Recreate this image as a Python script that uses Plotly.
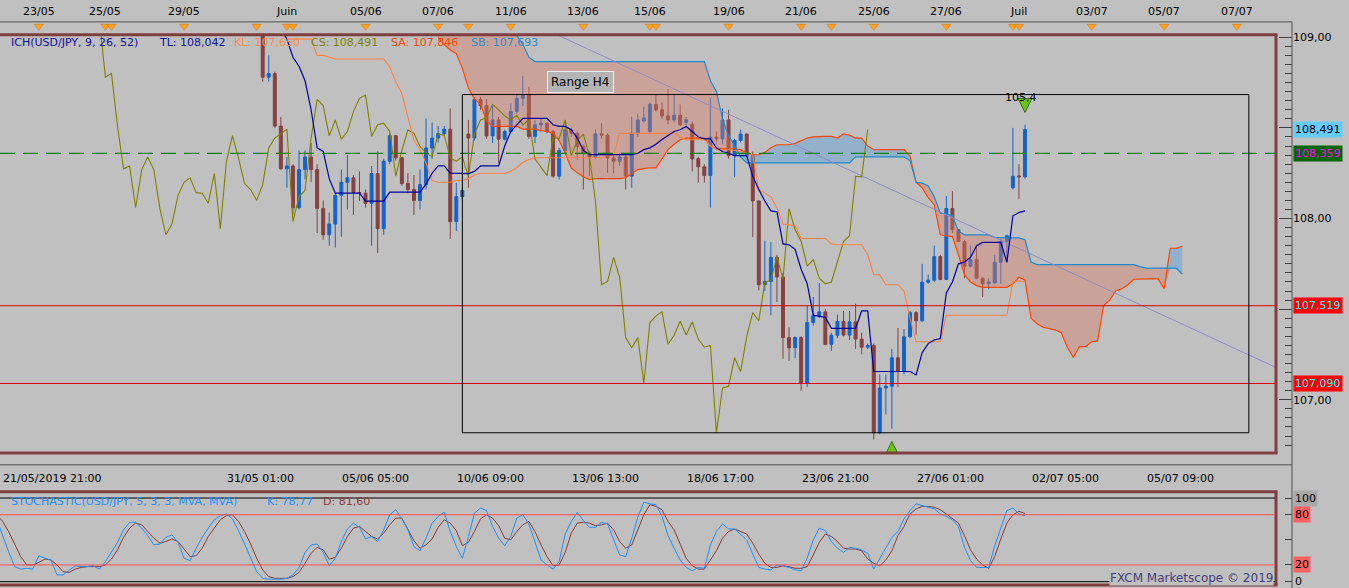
import plotly.graph_objects as go

# USD/JPY H4 (FXCM Marketscope). Bar index 0 = 21/05/2019 21:00, one bar = 4 h.
first_bar = 43
opens = [109.40, 109.20, 108.78, 108.80, 108.51, 108.274, 108.29, 108.06,
         108.27, 108.34, 108.27, 108.056, 107.91, 107.97, 108.128, 108.20,
         108.225, 108.143, 108.14, 108.084, 108.248, 107.944, 108.316, 108.457,
         108.335, 108.193, 108.16, 108.10, 108.187, 108.389, 108.444, 108.468,
         108.493, 107.983, 108.121, 108.466, 108.444, 108.657, 108.623, 108.456,
         108.544, 108.438, 108.48, 108.59, 108.663, 108.681, 108.453, 108.517,
         108.526, 108.48, 108.234, 108.376, 108.489, 108.47, 108.398, 108.362,
         108.34, 108.467, 108.46, 108.334, 108.316, 108.34, 108.234, 108.467,
         108.538, 108.48, 108.63, 108.60, 108.566, 108.544, 108.57, 108.53,
         108.52, 108.33, 108.285, 108.237, 108.449, 108.44, 108.544, 108.347,
         108.431, 108.466, 108.347, 108.097, 107.635, 107.653, 107.786, 107.677,
         107.343, 107.287, 107.343, 107.092, 107.426, 107.463, 107.485, 107.306,
         107.356, 107.433, 107.357, 107.43, 107.335, 107.29, 107.30, 106.818,
         107.065, 107.075, 107.232, 107.156, 107.348, 107.481, 107.436, 107.649,
         107.66, 107.79, 107.664, 108.055, 107.938, 107.873, 107.737, 107.773,
         107.671, 107.64, 107.645, 107.759, 107.875, 108.17, 108.235, 108.23]
highs = [109.45, 109.25, 108.90, 108.81, 108.56, 108.34, 108.30, 108.376,
         108.376, 108.417, 108.30, 108.10, 108.033, 108.14, 108.27, 108.35,
         108.24, 108.26, 108.16, 108.29, 108.37, 108.33, 108.47, 108.46,
         108.34, 108.25, 108.24, 108.27, 108.553, 108.53, 108.51, 108.51,
         108.608, 108.197, 108.17, 108.544, 108.67, 108.672, 108.66, 108.621,
         108.56, 108.49, 108.635, 108.69, 108.786, 108.727, 108.545, 108.55,
         108.53, 108.49, 108.39, 108.535, 108.50, 108.48, 108.41, 108.37,
         108.49, 108.526, 108.47, 108.35, 108.36, 108.35, 108.562, 108.58,
         108.617, 108.64, 108.68, 108.64, 108.713, 108.68, 108.63, 108.56,
         108.535, 108.34, 108.30, 108.668, 108.48, 108.608, 108.60, 108.44,
         108.49, 108.47, 108.37, 108.10, 107.878, 107.87, 107.80, 107.70,
         107.40, 107.35, 107.35, 107.52, 107.567, 107.645, 107.50, 107.37,
         107.47, 107.49, 107.49, 107.53, 107.37, 107.31, 107.31, 107.14,
         107.14, 107.28, 107.396, 107.39, 107.49, 107.49, 107.75, 107.69,
         107.85, 107.80, 108.124, 108.151, 107.94, 107.88, 107.85, 107.85,
         107.675, 107.67, 107.80, 107.89, 107.91, 108.50, 108.30, 108.517]
lows = [109.05, 108.755, 108.755, 108.50, 108.27, 108.17, 108.024, 108.05,
        108.215, 108.20, 107.92, 107.883, 107.85, 107.84, 107.90, 108.05,
        108.02, 108.096, 108.06, 107.85, 107.81, 107.91, 108.30, 108.32,
        108.18, 108.14, 108.02, 108.05, 108.16, 108.33, 108.42, 108.46,
        107.886, 107.93, 108.10, 108.17, 108.43, 108.60, 108.44, 108.416,
        108.307, 108.43, 108.47, 108.58, 108.62, 108.44, 108.416, 108.48,
        108.47, 108.225, 108.215, 108.36, 108.45, 108.325, 108.16, 108.234,
        108.33, 108.44, 108.252, 108.25, 108.29, 108.16, 108.17, 108.45,
        108.53, 108.47, 108.59, 108.55, 108.52, 108.53, 108.51, 108.50,
        108.26, 108.198, 108.198, 108.06, 108.42, 108.41, 108.33, 108.23,
        108.42, 108.34, 107.897, 107.604, 107.60, 107.467, 107.54, 107.226,
        107.215, 107.23, 107.05, 107.07, 107.41, 107.45, 107.30, 107.27,
        107.34, 107.35, 107.33, 107.28, 107.251, 107.28, 106.781, 106.81,
        106.92, 106.84, 107.07, 107.14, 107.34, 107.36, 107.43, 107.64,
        107.65, 107.66, 107.66, 107.92, 107.87, 107.67, 107.73, 107.665,
        107.567, 107.61, 107.64, 107.64, 107.76, 108.16, 108.106, 108.22]
closes = [109.10, 108.78, 108.80, 108.51, 108.274, 108.29, 108.06, 108.27,
          108.34, 108.27, 108.056, 107.91, 107.97, 108.128, 108.20, 108.225,
          108.143, 108.14, 108.084, 108.248, 107.944, 108.316, 108.457, 108.335,
          108.193, 108.16, 108.10, 108.187, 108.389, 108.444, 108.468, 108.493,
          107.983, 108.121, 108.155, 108.444, 108.657, 108.623, 108.456, 108.544,
          108.438, 108.48, 108.59, 108.663, 108.681, 108.453, 108.517, 108.526,
          108.48, 108.234, 108.376, 108.489, 108.47, 108.398, 108.362, 108.34,
          108.467, 108.46, 108.334, 108.316, 108.34, 108.234, 108.467, 108.544,
          108.555, 108.63, 108.599, 108.566, 108.544, 108.57, 108.517, 108.545,
          108.329, 108.285, 108.237, 108.449, 108.44, 108.544, 108.347, 108.431,
          108.466, 108.347, 108.097, 107.635, 107.653, 107.786, 107.677, 107.343,
          107.287, 107.343, 107.092, 107.426, 107.463, 107.485, 107.306, 107.356,
          107.433, 107.357, 107.43, 107.335, 107.29, 107.30, 106.818, 107.065,
          107.075, 107.232, 107.156, 107.348, 107.481, 107.436, 107.649, 107.66,
          107.79, 107.664, 108.055, 107.938, 107.873, 107.737, 107.773, 107.671,
          107.64, 107.65, 107.759, 107.873, 107.905, 108.233, 108.23, 108.491]

# Ichimoku (9, 26, 52)
line_start = 44
tenkan = [109.30, 109.25, 109.15, 109.05, 108.99, 108.89, 108.84, 108.76, 108.60, 108.39,
          108.37, 108.22, 108.14, 108.14, 108.14, 108.14, 108.14, 108.096, 108.096, 108.096,
          108.096, 108.146, 108.146, 108.146, 108.146, 108.146, 108.146, 108.19, 108.25, 108.29,
          108.29, 108.25, 108.25, 108.248, 108.248, 108.26, 108.29, 108.29, 108.29, 108.29,
          108.40, 108.48, 108.517, 108.553, 108.553, 108.553, 108.553, 108.553, 108.517, 108.508,
          108.508, 108.49, 108.444, 108.376, 108.353, 108.353, 108.353, 108.353, 108.353, 108.353,
          108.353, 108.353, 108.36, 108.38, 108.39, 108.41, 108.436, 108.46, 108.48, 108.49,
          108.508, 108.48, 108.45, 108.44, 108.44, 108.39, 108.37, 108.36, 108.347, 108.347,
          108.347, 108.233, 108.16, 108.097, 108.042, 108.037, 107.86, 107.855, 107.83, 107.72,
          107.64, 107.467, 107.46, 107.455, 107.394, 107.394, 107.394, 107.394, 107.394, 107.49,
          107.49, 107.156, 107.156, 107.156, 107.156, 107.156, 107.156, 107.156, 107.137, 107.26,
          107.31, 107.33, 107.338, 107.59, 107.65, 107.75, 107.76, 107.786, 107.85, 107.868,
          107.868, 107.868, 107.868, 107.758, 108.015, 108.033, 108.042]
kijun = [109.30, 109.25, 109.20, 109.10, 108.99, 108.99, 108.99, 108.99, 108.99, 108.90,
         108.90, 108.89, 108.88, 108.88, 108.88, 108.88, 108.88, 108.88, 108.88, 108.88,
         108.88, 108.836, 108.754, 108.69, 108.562, 108.43, 108.38, 108.307, 108.21, 108.20,
         108.20, 108.20, 108.21, 108.21, 108.22, 108.24, 108.25, 108.25, 108.25, 108.25,
         108.25, 108.26, 108.28, 108.31, 108.325, 108.335, 108.335, 108.335, 108.335, 108.335,
         108.335, 108.335, 108.335, 108.335, 108.335, 108.335, 108.335, 108.35, 108.35, 108.47,
         108.47, 108.47, 108.47, 108.47, 108.47, 108.47, 108.47, 108.47, 108.47, 108.45,
         108.435, 108.435, 108.435, 108.435, 108.40, 108.38, 108.38, 108.38, 108.375, 108.37,
         108.36, 108.35, 108.16, 108.14, 108.12, 108.06, 107.97, 107.965, 107.96, 107.89,
         107.89, 107.89, 107.89, 107.89, 107.86, 107.855, 107.855, 107.855, 107.855, 107.855,
         107.80, 107.69, 107.69, 107.635, 107.635, 107.635, 107.60, 107.45, 107.32, 107.32,
         107.32, 107.32, 107.32, 107.466, 107.466, 107.466, 107.466, 107.466, 107.466, 107.466,
         107.466, 107.466, 107.466, 107.466, 107.65, 107.657, 107.65]
cloud_start = 73
senkou_a = [109.00, 108.96, 108.93, 108.91, 108.83, 108.72, 108.66, 108.63, 108.54, 108.508,
            108.508, 108.508, 108.508, 108.508, 108.493, 108.493, 108.493, 108.485, 108.48, 108.47,
            108.43, 108.36, 108.28, 108.252, 108.23, 108.215, 108.22, 108.22, 108.22, 108.22,
            108.22, 108.225, 108.25, 108.27, 108.275, 108.28, 108.28, 108.33, 108.38, 108.41,
            108.435, 108.444, 108.444, 108.444, 108.444, 108.40, 108.385, 108.385, 108.385, 108.385,
            108.38, 108.36, 108.352, 108.352, 108.365, 108.39, 108.407, 108.407, 108.407, 108.415,
            108.43, 108.444, 108.45, 108.453, 108.453, 108.453, 108.444, 108.467, 108.46, 108.444,
            108.444, 108.40, 108.38, 108.38, 108.38, 108.38, 108.38, 108.38, 108.345, 108.20,
            108.17, 108.115, 108.075, 107.91, 107.905, 107.90, 107.80, 107.69, 107.65, 107.63,
            107.62, 107.62, 107.62, 107.62, 107.62, 107.64, 107.676, 107.66, 107.45, 107.42,
            107.40, 107.393, 107.385, 107.37, 107.29, 107.233, 107.293, 107.293, 107.32, 107.325,
            107.52, 107.55, 107.60, 107.613, 107.635, 107.665, 107.667, 107.667, 107.667, 107.667,
            107.613, 107.836, 107.836, 107.846]
senkou_b = [109.20, 109.20, 109.20, 109.20, 109.20, 109.20, 109.20, 109.20, 109.20, 109.20,
            109.20, 109.20, 109.10, 109.01, 108.96, 108.89, 108.866, 108.866, 108.866, 108.866,
            108.866, 108.866, 108.866, 108.866, 108.866, 108.866, 108.866, 108.866, 108.866, 108.866,
            108.866, 108.866, 108.866, 108.866, 108.866, 108.866, 108.866, 108.866, 108.866, 108.866,
            108.866, 108.866, 108.866, 108.866, 108.866, 108.76, 108.70, 108.55, 108.46, 108.40,
            108.34, 108.307, 108.307, 108.307, 108.307, 108.307, 108.307, 108.307, 108.307, 108.307,
            108.307, 108.307, 108.307, 108.307, 108.307, 108.307, 108.307, 108.307, 108.307, 108.34,
            108.34, 108.34, 108.34, 108.34, 108.34, 108.34, 108.34, 108.34, 108.32, 108.20,
            108.195, 108.18, 108.12, 108.03, 108.025, 108.015, 107.93, 107.91, 107.91, 107.91,
            107.91, 107.91, 107.896, 107.893, 107.893, 107.893, 107.893, 107.883, 107.76, 107.746,
            107.746, 107.746, 107.746, 107.746, 107.746, 107.746, 107.746, 107.746, 107.746, 107.746,
            107.746, 107.746, 107.746, 107.746, 107.746, 107.746, 107.735, 107.726, 107.726, 107.726,
            107.726, 107.726, 107.726, 107.693]

# Stochastic (5, 3, 3), bars 0..170
stoch_k = [75, 55, 36, 18, 15, 16, 15, 31, 28, 26,
           8, 8, 13, 19, 18, 18, 19, 15, 24, 35,
           47, 62, 71, 71, 64, 55, 44, 45, 53, 56,
           47, 28, 25, 40, 53, 64, 74, 79, 81, 75,
           61, 45, 29, 12, 4, 3, 3, 3, 4, 8,
           17, 35, 44, 45, 35, 19, 28, 48, 63, 70,
           65, 51, 54, 48, 62, 80, 86, 75, 62, 42,
           37, 52, 70, 78, 83, 60, 42, 28, 54, 82,
           88, 85, 66, 52, 43, 54, 76, 80, 69, 47,
           26, 20, 15, 24, 57, 72, 83, 73, 65, 65,
           71, 69, 50, 32, 30, 52, 77, 95, 93, 92,
           78, 55, 40, 26, 17, 13, 17, 16, 44, 60,
           69, 63, 63, 57, 50, 33, 17, 15, 14, 20,
           19, 17, 14, 13, 28, 50, 64, 61, 48, 40,
           35, 41, 40, 38, 34, 15, 28, 40, 53, 60,
           75, 85, 93, 91, 89, 87, 81, 78, 74, 66,
           41, 25, 17, 17, 17, 43, 65, 85, 88, 81,
           78.77]
stoch_d = [81, 72, 60, 44, 30, 20, 20, 23, 27, 26,
           20, 12, 11, 15, 17, 18, 18, 18, 20, 27,
           38, 53, 64, 70, 68, 60, 52, 46, 48, 51,
           48, 39, 30, 31, 40, 54, 64, 74, 79, 80,
           72, 60, 45, 28, 14, 6, 4, 4, 4, 6,
           11, 22, 34, 41, 38, 27, 29, 40, 54, 64,
           66, 60, 54, 51, 58, 68, 76, 76, 62, 49,
           40, 44, 51, 65, 74, 70, 61, 43, 47, 60,
           75, 80, 76, 67, 52, 50, 60, 68, 72, 60,
           44, 30, 19, 20, 35, 58, 70, 71, 70, 67,
           68, 70, 62, 48, 40, 44, 62, 80, 92, 90,
           86, 72, 62, 45, 28, 19, 15, 15, 26, 37,
           52, 60, 63, 60, 57, 46, 33, 22, 17, 17,
           19, 18, 16, 16, 18, 32, 47, 57, 54, 48,
           40, 39, 39, 37, 27, 22, 19, 26, 37, 55,
           66, 81, 87, 90, 90, 89, 86, 81, 76, 70,
           55, 38, 27, 20, 16, 30, 51, 70, 80, 84,
           81.6]

# axis labels
top_bars = [7, 18, 31, 48, 61, 73, 85, 97, 108, 121, 133, 145, 157, 169, 181, 193, 205]
top_text = ["23/05", "25/05", "29/05", "Juin", "05/06", "07/06", "11/06", "13/06", "15/06",
            "19/06", "21/06", "25/06", "27/06", "Juil", "03/07", "05/07", "07/07"]
event_bars = [7, 18, 19, 31, 43, 48, 49, 61, 73, 78, 85, 97, 108, 109, 121, 133, 138,
              145, 157, 168, 169, 181, 193, 205]
bottom_bars = [0, 43, 62, 81, 100, 119, 138, 157, 176, 195]
bottom_text = ["21/05/2019 21:00", "31/05 01:00", "05/06 05:00", "10/06 09:00", "13/06 13:00",
               "18/06 17:00", "23/06 21:00", "27/06 01:00", "02/07 05:00", "05/07 09:00"]

# drawings on the chart
range_box_bars = [77, 207]
range_box_px = [106.818, 108.684]
trend_bars = [92.8, 211.3]
trend_px = [109.0115, 107.181]
support_lines = [107.519, 107.090]
dashed_level = 108.359
last_close = 108.491
signal_up = (148, 106.77)
signal_down = (170, 108.585)

W, H = 1349, 588
FONT = "DejaVu Sans"
BG = "#c0c0c0"
FRAME = "#7f3f3f"


def px(x):
    return x / W


def py(y):
    return 1 - y / H


x_range = [(0 + 3.5) / 6.05, (1276 + 3.5) / 6.05]
price_range = [108 - (452 - 216) / 182.5, 108 + (216 - 31) / 182.5]
stoch_range = [20 + (564 - 584) * 1.2, 20 + (564 - 491) * 1.2]

bar_x = list(range(first_bar, first_bar + len(closes)))
line_x = list(range(line_start, line_start + len(tenkan)))
cloud_x = list(range(cloud_start, cloud_start + len(senkou_a)))
stoch_x = list(range(len(stoch_k)))
cloud_low = [min(a, b) for a, b in zip(senkou_a, senkou_b)]

fig = go.Figure()

# kumo: blue where SA above SB, brownish-pink where SB above SA
fig.add_trace(go.Scatter(x=cloud_x, y=cloud_low, mode="lines", line=dict(width=0),
                         hoverinfo="skip", showlegend=False))
fig.add_trace(go.Scatter(x=cloud_x, y=senkou_a, mode="lines", line=dict(width=0),
                         fill="tonexty", fillcolor="rgba(90,160,215,0.45)",
                         hoverinfo="skip", showlegend=False))
fig.add_trace(go.Scatter(x=cloud_x, y=cloud_low, mode="lines", line=dict(width=0),
                         hoverinfo="skip", showlegend=False))
fig.add_trace(go.Scatter(x=cloud_x, y=senkou_b, mode="lines", line=dict(width=0),
                         fill="tonexty", fillcolor="rgba(215,125,100,0.42)",
                         hoverinfo="skip", showlegend=False))
fig.add_trace(go.Scatter(x=cloud_x, y=senkou_a, mode="lines",
                         line=dict(color="#ff4500", width=1.2), showlegend=False))
fig.add_trace(go.Scatter(x=cloud_x, y=senkou_b, mode="lines",
                         line=dict(color="#1e8ad0", width=1.2), showlegend=False))

fig.add_trace(go.Scatter(x=trend_bars, y=trend_px, mode="lines",
                         line=dict(color="#8c8cc8", width=1), showlegend=False))

# chikou span = close drawn 26 bars back
fig.add_trace(go.Scatter(x=[i - 26 for i in bar_x], y=closes, mode="lines",
                         line=dict(color="#808000", width=1.1), showlegend=False))

fig.add_trace(go.Candlestick(
    x=bar_x, open=opens, high=highs, low=lows, close=closes,
    increasing=dict(line=dict(color="#1464c8", width=1), fillcolor="#1464c8"),
    decreasing=dict(line=dict(color="#874141", width=1), fillcolor="#874141"),
    whiskerwidth=0, showlegend=False, hoverinfo="skip"))

fig.add_trace(go.Scatter(x=line_x, y=kijun, mode="lines",
                         line=dict(color="#ff8040", width=1.1), showlegend=False))
fig.add_trace(go.Scatter(x=line_x, y=tenkan, mode="lines",
                         line=dict(color="#0000a0", width=1.2), showlegend=False))

fig.add_trace(go.Scatter(x=[signal_up[0]], y=[signal_up[1]], mode="markers",
                         marker=dict(symbol="arrow-up", size=14, color="#6cc417",
                                     line=dict(color="#2f7010", width=1)),
                         showlegend=False))
fig.add_trace(go.Scatter(x=[signal_down[0]], y=[signal_down[1]], mode="markers",
                         marker=dict(symbol="arrow-down", size=14, color="#6cc417",
                                     line=dict(color="#2f7010", width=1)),
                         showlegend=False))

# stochastic pane
fig.add_trace(go.Scatter(x=stoch_x, y=stoch_d, mode="lines", yaxis="y2",
                         line=dict(color="#8b3a3a", width=1), showlegend=False))
fig.add_trace(go.Scatter(x=stoch_x, y=stoch_k, mode="lines", yaxis="y2",
                         line=dict(color="#1e90ff", width=1), showlegend=False))

# event markers on the top ruler
fig.add_trace(go.Scatter(x=event_bars, y=[0.5] * len(event_bars), mode="markers", yaxis="y3",
                         marker=dict(symbol="triangle-down", size=8, color="#ffa020",
                                     line=dict(color="#c87810", width=0.5)),
                         hoverinfo="skip", showlegend=False, cliponaxis=False))

shapes = []
for x0, y0, x1, y1 in [(0, 31, 1277.5, 31), (1276, 31, 1276, 452), (0, 452, 1277.5, 452),
                       (0, 491, 1277.5, 491), (1276, 491, 1276, 585), (0, 585, 1277.5, 585)]:
    shapes.append(dict(type="line", xref="paper", yref="paper", x0=px(x0), y0=py(y0),
                       x1=px(x1), y1=py(y1), line=dict(color=FRAME, width=3)))
for x0, y0, x1, y1 in [(0, 18, 1292, 18), (0, 464, 1292, 464), (1292, 18, 1292, 588)]:
    shapes.append(dict(type="line", xref="paper", yref="paper", x0=px(x0), y0=py(y0),
                       x1=px(x1), y1=py(y1), line=dict(color="#505050", width=1)))
for lvl in support_lines:
    shapes.append(dict(type="line", xref="paper", yref="y", x0=0, x1=px(1275),
                       y0=lvl, y1=lvl, line=dict(color="#dd0000", width=1)))
shapes.append(dict(type="line", xref="paper", yref="y", x0=0, x1=px(1275),
                   y0=dashed_level, y1=dashed_level,
                   line=dict(color="#008000", width=1.3, dash="15px,8px")))
shapes.append(dict(type="rect", xref="x", yref="y", x0=range_box_bars[0], x1=range_box_bars[1],
                   y0=range_box_px[0], y1=range_box_px[1],
                   line=dict(color="black", width=1)))
for lvl, col in [(100, "black"), (80, "#ff4c4c"), (20, "#ff4c4c"), (0, "black")]:
    shapes.append(dict(type="line", xref="paper", yref="y2", x0=0, x1=px(1275),
                       y0=lvl, y1=lvl, line=dict(color=col, width=1)))


def fmt(v, nd):
    return f"{v:.{nd}f}".replace(".", ",")


ann = []
legend = [(9, "ICH(USD/JPY, 9, 26, 52)", "#1010a0"),
          (157, "TL: " + fmt(tenkan[-1], 3), "#1010a0"),
          (232, "KL: " + fmt(kijun[-1], 3), "#ff8c50"),
          (309, "CS: " + fmt(closes[-1], 3), "#808000"),
          (389, "SA: " + fmt(senkou_a[-1], 3), "#ff4500"),
          (469, "SB: " + fmt(senkou_b[-1], 3), "#2c8cd0")]
for x, t, c in legend:
    ann.append(dict(xref="paper", yref="paper", x=px(x), y=py(39), xanchor="left",
                    yanchor="middle", text=t, showarrow=False,
                    font=dict(family=FONT, size=11, color=c)))
stoch_legend = [(9, "STOCHASTIC(USD/JPY, 5, 3, 3, MVA, MVA)", "#1e90ff"),
                (265, "K: " + fmt(stoch_k[-1], 2), "#1e90ff"),
                (321, "D: " + fmt(stoch_d[-1], 2), "#8b3a3a")]
for x, t, c in stoch_legend:
    ann.append(dict(xref="paper", yref="paper", x=px(x), y=py(501), xanchor="left",
                    yanchor="middle", text=t, showarrow=False,
                    font=dict(family=FONT, size=11, color=c)))

for b, t in zip(top_bars, top_text):
    ann.append(dict(xref="x", yref="paper", x=b, y=py(8), xanchor="center",
                    yanchor="middle", text=t, showarrow=False,
                    font=dict(family=FONT, size=11, color="black")))

for i, (b, t) in enumerate(zip(bottom_bars, bottom_text)):
    if i == 0:
        ann.append(dict(xref="paper", yref="paper", x=px(1), y=py(478), xanchor="left",
                        yanchor="middle", text=t, showarrow=False,
                        font=dict(family=FONT, size=11, color="black")))
    else:
        ann.append(dict(xref="x", yref="paper", x=b + 0.7, y=py(478), xanchor="center",
                        yanchor="middle", text=t, showarrow=False,
                        font=dict(family=FONT, size=11, color="black")))

price_tags = [(last_close, "#66ccff", "black"), (dashed_level, "#006600", "#ff00ff"),
              (support_lines[0], "#ff0000", "#00ffff"), (support_lines[1], "#ff0000", "#00ffff")]
for v, bg, fc in price_tags:
    ann.append(dict(xref="paper", yref="y", x=px(1293), y=v, xanchor="left", yanchor="middle",
                    text=fmt(v, 3), showarrow=False, bgcolor=bg, borderpad=1,
                    font=dict(family=FONT, size=11, color=fc)))
for v, bg in [(100, "#a8a8a8"), (80, "#ff6060"), (20, "#ff6060"), (0, None)]:
    a = dict(xref="paper", yref="y2", x=px(1293), y=v, xanchor="left", yanchor="middle",
             text=str(v), showarrow=False, borderpad=1,
             font=dict(family=FONT, size=11, color="black"))
    if bg:
        a["bgcolor"] = bg
    ann.append(a)

ann.append(dict(xref="paper", yref="paper", x=px(1274), y=py(578), xanchor="right",
                yanchor="middle", text="FXCM Marketscope © 2019", showarrow=False,
                bgcolor=BG, borderpad=0, font=dict(family=FONT, size=12, color="#40407a")))
ann.append(dict(xref="x", yref="y", x=96.45, y=108.751, text="Range H4", showarrow=False,
                bgcolor="#b4b4b4", bordercolor="#ececec", borderwidth=1, borderpad=3,
                font=dict(family=FONT, size=12, color="black")))
ann.append(dict(xref="x", yref="y", x=169.3, y=108.668, text="105,4", showarrow=False,
                font=dict(family=FONT, size=11, color="black")))

tick_col = "#404040"
fig.update_layout(
    width=W, height=H,
    margin=dict(l=0, r=0, t=0, b=0),
    paper_bgcolor=BG, plot_bgcolor=BG,
    showlegend=False,
    font=dict(family=FONT, size=11, color="black"),
    xaxis=dict(domain=[0, px(1276)], range=x_range, anchor="y", showgrid=False,
               zeroline=False, showline=False, showticklabels=False, ticks="",
               rangeslider=dict(visible=False), fixedrange=True),
    xaxis2=dict(overlaying="x", anchor="free", position=py(464), side="bottom",
                range=x_range, showgrid=False, zeroline=False, showline=False,
                tickmode="array", tickvals=bottom_bars, showticklabels=False,
                ticks="inside", ticklen=8, tickcolor=tick_col,
                minor=dict(tickmode="linear", tick0=1, dtick=2, ticks="inside",
                           ticklen=4, tickcolor=tick_col)),
    xaxis3=dict(overlaying="x", anchor="free", position=py(18), side="top",
                range=x_range, showgrid=False, zeroline=False, showline=False,
                tickmode="array", tickvals=top_bars, showticklabels=False,
                ticks="inside", ticklen=12, tickcolor=tick_col,
                minor=dict(tickmode="linear", tick0=1, dtick=2, ticks="inside",
                           ticklen=5, tickcolor=tick_col)),
    yaxis=dict(domain=[py(452), py(31)], range=price_range, anchor="free",
               position=px(1292), side="right", showgrid=False, zeroline=False,
               showline=False, tickmode="array", tickvals=[107, 107.5, 108, 108.5, 109],
               ticktext=["107,00", "", "108,00", "", "109,00"],
               ticks="inside", ticklen=13, tickcolor=tick_col,
               tickfont=dict(family=FONT, size=11, color="black"),
               minor=dict(tickmode="linear", tick0=0, dtick=0.05, ticks="inside",
                          ticklen=7, tickcolor=tick_col)),
    yaxis2=dict(domain=[py(585), py(491)], range=stoch_range, anchor="free",
                position=px(1292), side="right", showgrid=False, zeroline=False,
                showline=False, tickmode="array", tickvals=[0, 20, 50, 80, 100],
                showticklabels=False, ticks="inside", ticklen=7, tickcolor=tick_col),
    yaxis3=dict(domain=[py(28), py(17)], range=[0, 1], visible=False),
    shapes=shapes,
    annotations=ann,
)

fig.write_html("out.html", config={"displayModeBar": False},
               post_script="document.body.style.margin='0';document.body.style.overflow='hidden';")
